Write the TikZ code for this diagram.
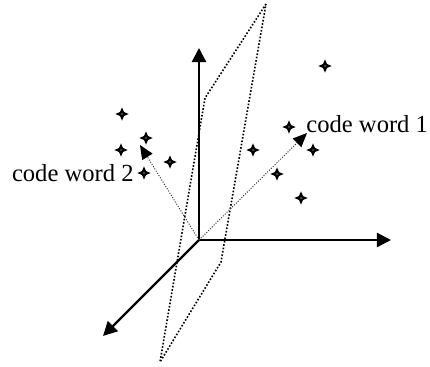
\documentclass[tikz,border=0pt]{standalone}
\usepackage{fontspec}
\setmainfont{Liberation Serif}
\usepackage{tikz}
\usetikzlibrary{arrows.meta,shapes.geometric}
\definecolor{Ink}{HTML}{000000}
\definecolor{Dots}{HTML}{333333}

\begin{document}
\begin{tikzpicture}[x=0.5pt,y=-0.5pt,
    every node/.style={font=\fontsize{12.3}{15}\selectfont,inner sep=0pt},
    axis/.style={draw=Ink,line width=1.1pt,-{Triangle[length=7pt,width=7pt]}},
    codevec/.style={draw=Dots,line width=0.5pt,dash pattern=on 0.5pt off 0.8pt,
      -{Triangle[length=7pt,width=6pt,color=Ink]}},
    plane/.style={draw=Ink,line width=0.8pt,dash pattern=on 0.8pt off 0.9pt},
    spark/.style={star,star points=4,star point ratio=0.42,minimum size=2.8pt,
      shape border rotate=45,fill=Ink,
      path picture={\fill[white] (path picture bounding box.center) circle (0.35pt);}}]
  \useasboundingbox (0,0) rectangle (430,366);
  % plane through the origin
  \coordinate (pa) at (266,4);
  \coordinate (pb) at (205,98);
  \coordinate (pc) at (160,362);
  \coordinate (pd) at (221,262);
  \draw[plane] (pa) -- (pb) -- (pc) -- (pd) -- cycle;
  % axes
  \coordinate (o) at (199,240);
  \coordinate (up) at (199,48);
  \coordinate (rt) at (391,240);
  \coordinate (dl) at (103,336);
  \draw[axis] (o) -- (up);
  \draw[axis] (o) -- (rt);
  \draw[axis] (o) -- (dl);
  % received points
  \foreach \x/\y [count=\i] in {122/114,146/138,121/150,170/162,144/173,
                                 325/66,289/127,253/150,313/150,277/174,301/198}
    \node[spark] (s\i) at (\x,\y) {};
  % code words
  \coordinate (cw1) at (307,133);
  \coordinate (cw2) at (140,145);
  \draw[codevec] (o) -- (cw1);
  \draw[codevec] (o) -- (cw2);
  \node[anchor=base west] (l1) at (306,132) {code word 1};
  \node[anchor=base east] (l2) at (134,181) {code word 2};
\end{tikzpicture}
\end{document}
